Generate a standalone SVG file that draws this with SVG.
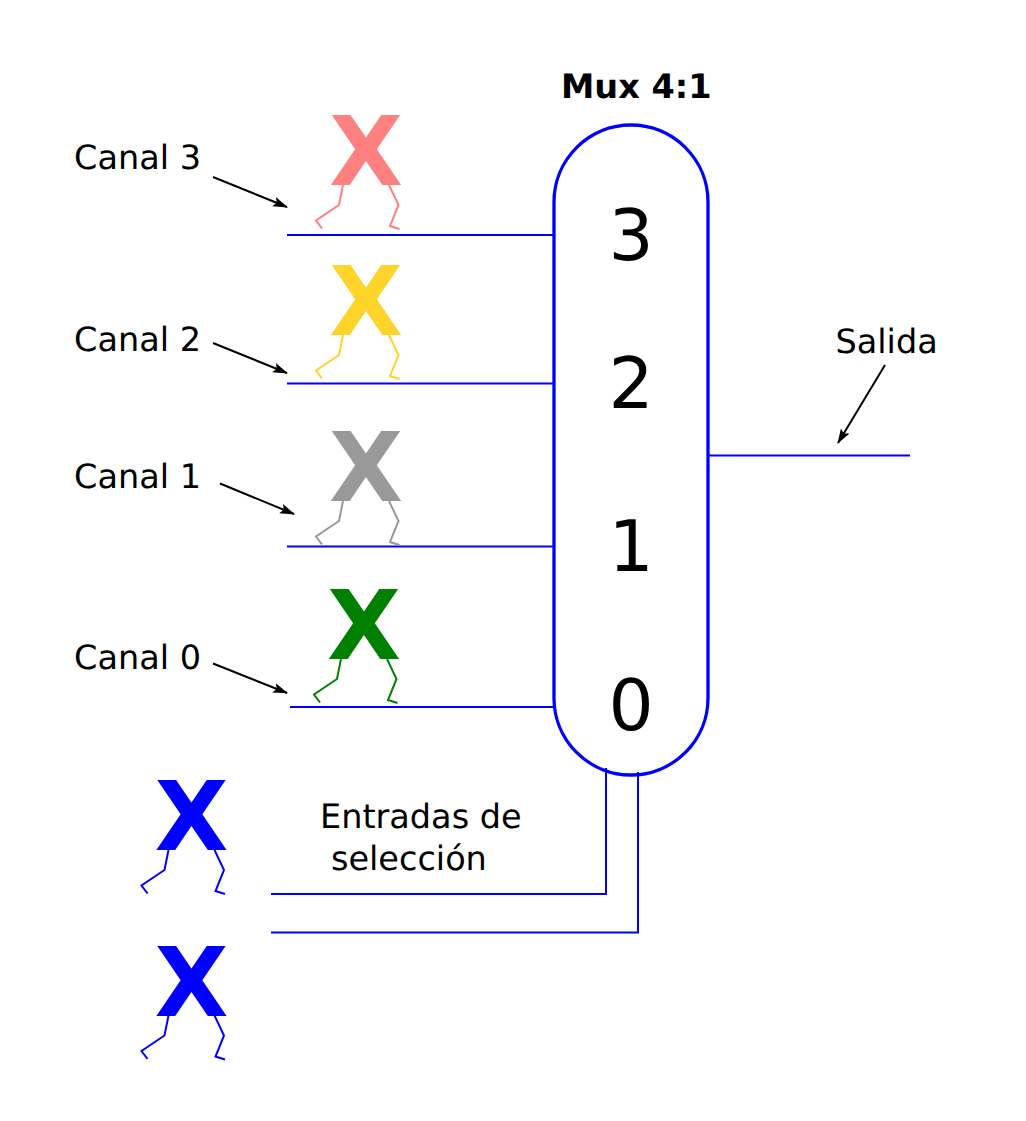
<svg xmlns="http://www.w3.org/2000/svg" width="1026" height="1121" viewBox="0 0 1026 1121">
<style>
text{font-family:"DejaVu Sans",sans-serif;fill:#000;text-rendering:geometricPrecision}
.l{font-size:33.5px}
.n{font-size:71px;text-anchor:middle}
.x{font-size:96px;font-weight:bold;text-anchor:middle}
.w{stroke:#00f;stroke-width:2;fill:none}
.a{stroke:#000;stroke-width:2;fill:none;marker-end:url(#arr)}
.leg{fill:none;stroke-width:2}
</style>
<defs>
<marker id="arr" markerUnits="userSpaceOnUse" markerWidth="16" markerHeight="12" refX="14" refY="5" orient="auto"><path d="M0 0L15 5L0 10L3 5Z" fill="#000"/></marker>
<g id="legs"><path class="leg" d="M-23 70L-27 90L-50 105.500L-44 113.500"/><path class="leg" d="M23 70L32.500 90L24 111L33.500 114"/></g>
</defs>
<g id="connectors">
<path class="w" d="M287 235H554M287 383.500H554M287 546.500H554M290 707H554M708 455.500H910M606 768V894H271M638 772V932.500H271"/>
<path class="a" d="M213 177L287 207"/>
<path class="a" d="M213 343L287 373"/>
<path class="a" d="M220 483.500L294 514"/>
<path class="a" d="M213 663.500L287 693"/>
<path class="a" d="M885 365L838 443"/>
</g>
<g id="mux"><rect x="554" y="125" width="154" height="650" rx="77" ry="77" fill="none" stroke="#00f" stroke-width="3.300"/>
<text class="n" x="631" y="260">3</text><text class="n" x="631" y="408">2</text><text class="n" x="631" y="571">1</text><text class="n" x="631" y="730">0</text>
<text x="561" y="98" font-size="33.500" font-weight="bold">Mux 4:1</text></g>
<g id="x3" transform="translate(366 115)" stroke="#ff8080"><text class="x" y="70" style="fill:#ff8080" stroke="none">X</text><use href="#legs"/></g>
<g id="x2" transform="translate(366 265)" stroke="#ffd42a"><text class="x" y="70" style="fill:#ffd42a" stroke="none">X</text><use href="#legs"/></g>
<g id="x1" transform="translate(366 431)" stroke="#999"><text class="x" y="70" style="fill:#999" stroke="none">X</text><use href="#legs"/></g>
<g id="x0" transform="translate(364 589)" stroke="#008000"><text class="x" y="70" style="fill:#008000" stroke="none">X</text><use href="#legs"/></g>
<g id="s1" transform="translate(191.500 780)" stroke="#00f"><text class="x" y="70" style="fill:#00f" stroke="none">X</text><use href="#legs"/></g>
<g id="s0" transform="translate(191.500 945.500)" stroke="#00f"><text class="x" y="70" style="fill:#00f" stroke="none">X</text><use href="#legs"/></g>
<g id="labels">
<text class="l" x="74" y="169">Canal 3</text>
<text class="l" x="74" y="351">Canal 2</text>
<text class="l" x="74" y="488">Canal 1</text>
<text class="l" x="74" y="669">Canal 0</text>
<text class="l" x="835.500" y="353">Salida</text>
<text class="l" x="320" y="828">Entradas de</text>
<text class="l" x="331" y="870">selección</text>
</g>
</svg>
